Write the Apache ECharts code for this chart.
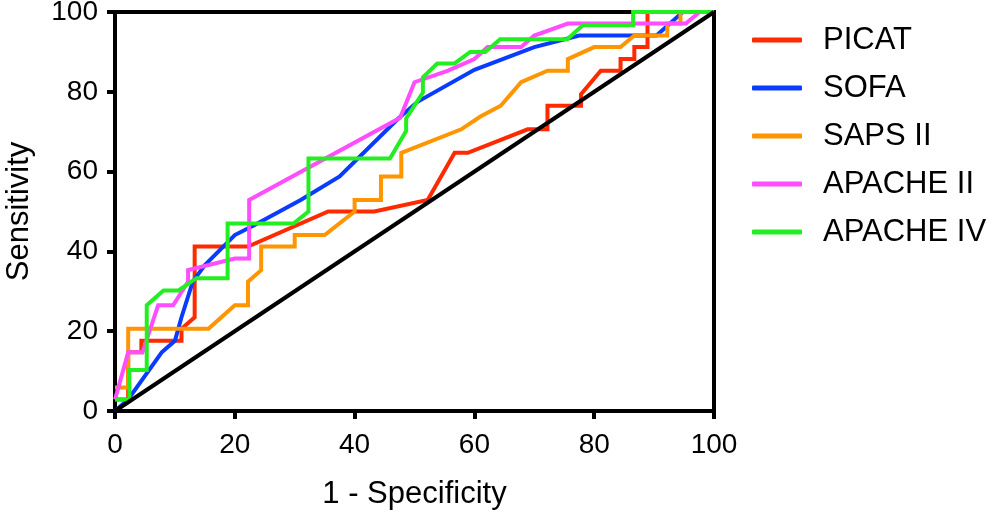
<!DOCTYPE html>
<html>
<head>
<meta charset="utf-8">
<script src="https://cdn.jsdelivr.net/npm/echarts/dist/echarts.min.js"></script>
<style>
  html, body { margin: 0; padding: 0; background: #fff; }
  #chart { width: 996px; height: 513px; }
</style>
</head>
<body>
<div id="chart"></div>
<script>
// ROC curves, [1 - specificity, sensitivity] in %
const picat = [[0,2.9],[2.2,2.9],[2.2,14.7],[4.4,14.7],[4.4,17.6],[11.1,17.6],[11.1,20.6],[13.3,23.5],[13.3,41.2],[22.2,41.2],[35.6,50],[43.3,50],[52.2,52.9],[56.7,64.7],[58.9,64.7],[68.9,70.6],[72.2,70.6],[72.2,76.5],[77.8,76.5],[77.8,79.4],[81.1,85.3],[84.4,85.3],[84.4,88.2],[86.7,88.2],[86.7,91.2],[88.9,91.2],[88.9,100],[100,100]]
const sofa = [[0,0],[2.2,2.9],[7.8,14.7],[10,17.6],[11.1,23.5],[13,32.5],[15,36.6],[20,44.1],[23.3,46.6],[31,52.9],[37.5,58.8],[47.3,73.3],[50.5,77.5],[60,85.5],[70,91.2],[77.5,94.1],[90.4,94.1],[94.8,100],[100,100]]
const saps2 = [[0,5.9],[2.2,5.9],[2.2,20.6],[15.6,20.6],[20,26.5],[22.2,26.5],[22.2,32.4],[24.4,35.3],[24.4,41.2],[30,41.2],[30,44.1],[35,44.1],[40,50],[40,52.9],[44.4,52.9],[44.4,58.8],[47.8,58.8],[47.8,64.7],[57.8,70.6],[61,73.8],[64.4,76.5],[67.8,82.4],[72.2,85.3],[75.6,85.3],[75.6,88.2],[80,91.2],[84.4,91.2],[86.7,94.1],[92.2,94.1],[92.2,97.1],[94.4,97.1],[94.4,100],[100,100]]
const apache2 = [[0,2.9],[2.2,14.7],[4.6,14.7],[7.2,26.5],[9.7,26.5],[12.2,32.4],[12.2,35.3],[20,38.2],[22.4,38.2],[22.4,52.9],[47.6,73.5],[50,82.4],[55.6,85.3],[60,88.2],[62.2,91.2],[67.8,91.2],[70,94.1],[75.6,97.1],[95.3,97.1],[97.6,100],[100,100]]
const apache4 = [[0,2.9],[2.4,2.9],[2.4,10.3],[5.3,10.3],[5.3,26.5],[8.1,30.2],[10.6,30.2],[13.6,33.3],[18.8,33.3],[18.8,47],[29.8,47],[32.3,50],[32.3,63.3],[45.9,63.3],[48.6,70.2],[48.6,73.3],[51.4,79.8],[51.4,83.6],[53.8,87.1],[56.7,87.1],[59.3,90],[61.8,90],[64.3,93.2],[75.5,93.2],[78.1,96.7],[86.5,96.7],[86.5,100],[100,100]]
const chance = [[0,0],[100,100]]

const names = ['PICAT', 'SOFA', 'SAPS II', 'APACHE II', 'APACHE IV']
const colors = ['#ff2a00', '#0a3cff', '#ff9500', '#ff4dff', '#22ee22']
const curves = [picat, sofa, saps2, apache2, apache4]
const ticks = [0, 20, 40, 60, 80, 100]

const font = 'Liberation Sans, Arial, sans-serif'

function makeAxis(name, gap, margin) {
  return {
    type: 'value',
    min: ticks[0],
    max: ticks[ticks.length - 1],
    interval: ticks[1] - ticks[0],
    name: name,
    nameLocation: 'middle',
    nameGap: gap,
    nameTextStyle: { fontSize: 31, color: '#000', fontFamily: font },
    axisLine: { show: true, onZero: false, lineStyle: { color: '#000', width: 4 } },
    axisTick: { show: true, length: 8, lineStyle: { color: '#000', width: 4 } },
    splitLine: { show: false },
    axisLabel: { fontSize: 28, color: '#000', fontFamily: font, margin: margin },
  }
}

let series = curves.map((d, i) => ({
  name: names[i],
  type: 'line',
  data: d,
  symbol: 'none',
  color: colors[i],
  lineStyle: { color: colors[i], width: 4, join: 'miter' },
}))
series.push({
  name: 'chance',
  type: 'line',
  data: chance,
  symbol: 'none',
  z: 3,
  lineStyle: { color: '#000', width: 4 },
})

let option = {
  animation: false,
  backgroundColor: '#fff',
  grid: {
    left: 115, right: 282, top: 12, bottom: 102,
    containLabel: false,
    outerBoundsMode: 'none',
    show: true, borderColor: '#000', borderWidth: 4,
  },
  legend: {
    data: names,
    orient: 'vertical',
    left: 747,
    top: 11,
    itemWidth: 50,
    itemHeight: 5,
    itemGap: 0,
    icon: 'roundRect',
    textStyle: { fontSize: 31, color: '#000', fontFamily: font, lineHeight: 48, padding: [0, 0, 0, 16] },
  },
  xAxis: makeAxis('1 - Specificity', 68, 20),
  yAxis: makeAxis('Sensitivity', 80, 17),
  series: series,
}

let myChart = echarts.init(document.getElementById('chart'))
myChart.setOption(option)
</script>
</body>
</html>
